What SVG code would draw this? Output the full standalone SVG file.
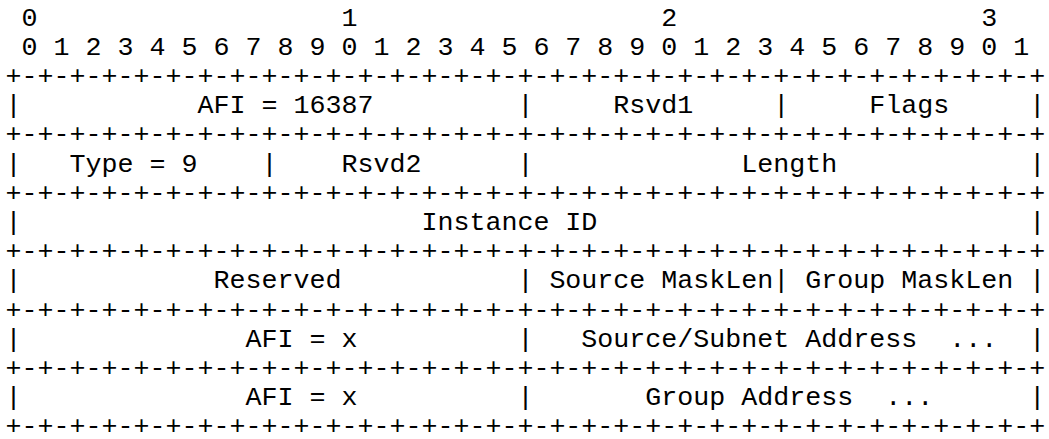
<svg xmlns="http://www.w3.org/2000/svg" width="1049" height="439" viewBox="0 0 1049 439">
<style>
text{font-family:"Liberation Mono","Courier New",monospace;font-size:26.667px;fill:#000;white-space:pre}
</style>
<rect width="1049" height="439" fill="#fff"/>
<g id="ruler">
<text x="5.5" y="25.5" xml:space="preserve"> 0                   1                   2                   3</text>
<text x="5.5" y="54.7" xml:space="preserve"> 0 1 2 3 4 5 6 7 8 9 0 1 2 3 4 5 6 7 8 9 0 1 2 3 4 5 6 7 8 9 0 1</text>
</g>
<g id="borders">
<text x="5.5" y="83.9" xml:space="preserve">+-+-+-+-+-+-+-+-+-+-+-+-+-+-+-+-+-+-+-+-+-+-+-+-+-+-+-+-+-+-+-+-+</text>
<text x="5.5" y="142.3" xml:space="preserve">+-+-+-+-+-+-+-+-+-+-+-+-+-+-+-+-+-+-+-+-+-+-+-+-+-+-+-+-+-+-+-+-+</text>
<text x="5.5" y="200.7" xml:space="preserve">+-+-+-+-+-+-+-+-+-+-+-+-+-+-+-+-+-+-+-+-+-+-+-+-+-+-+-+-+-+-+-+-+</text>
<text x="5.5" y="259.1" xml:space="preserve">+-+-+-+-+-+-+-+-+-+-+-+-+-+-+-+-+-+-+-+-+-+-+-+-+-+-+-+-+-+-+-+-+</text>
<text x="5.5" y="317.5" xml:space="preserve">+-+-+-+-+-+-+-+-+-+-+-+-+-+-+-+-+-+-+-+-+-+-+-+-+-+-+-+-+-+-+-+-+</text>
<text x="5.5" y="375.9" xml:space="preserve">+-+-+-+-+-+-+-+-+-+-+-+-+-+-+-+-+-+-+-+-+-+-+-+-+-+-+-+-+-+-+-+-+</text>
<text x="5.5" y="434.3" xml:space="preserve">+-+-+-+-+-+-+-+-+-+-+-+-+-+-+-+-+-+-+-+-+-+-+-+-+-+-+-+-+-+-+-+-+</text>
</g>
<g id="row-afi-flags">
<text x="5.5" y="113.1" xml:space="preserve">|           AFI = 16387         |     Rsvd1     |     Flags     |</text>
</g>
<g id="row-type-length">
<text x="5.5" y="171.5" xml:space="preserve">|   Type = 9    |    Rsvd2      |             Length            |</text>
</g>
<g id="row-instance">
<text x="5.5" y="229.9" xml:space="preserve">|                         Instance ID                           |</text>
</g>
<g id="row-masklen">
<text x="5.5" y="288.3" xml:space="preserve">|            Reserved           | Source MaskLen| Group MaskLen |</text>
</g>
<g id="row-source">
<text x="5.5" y="346.7" xml:space="preserve">|              AFI = x          |   Source/Subnet Address  ...  |</text>
</g>
<g id="row-group">
<text x="5.5" y="405.1" xml:space="preserve">|              AFI = x          |       Group Address  ...      |</text>
</g>
</svg>
